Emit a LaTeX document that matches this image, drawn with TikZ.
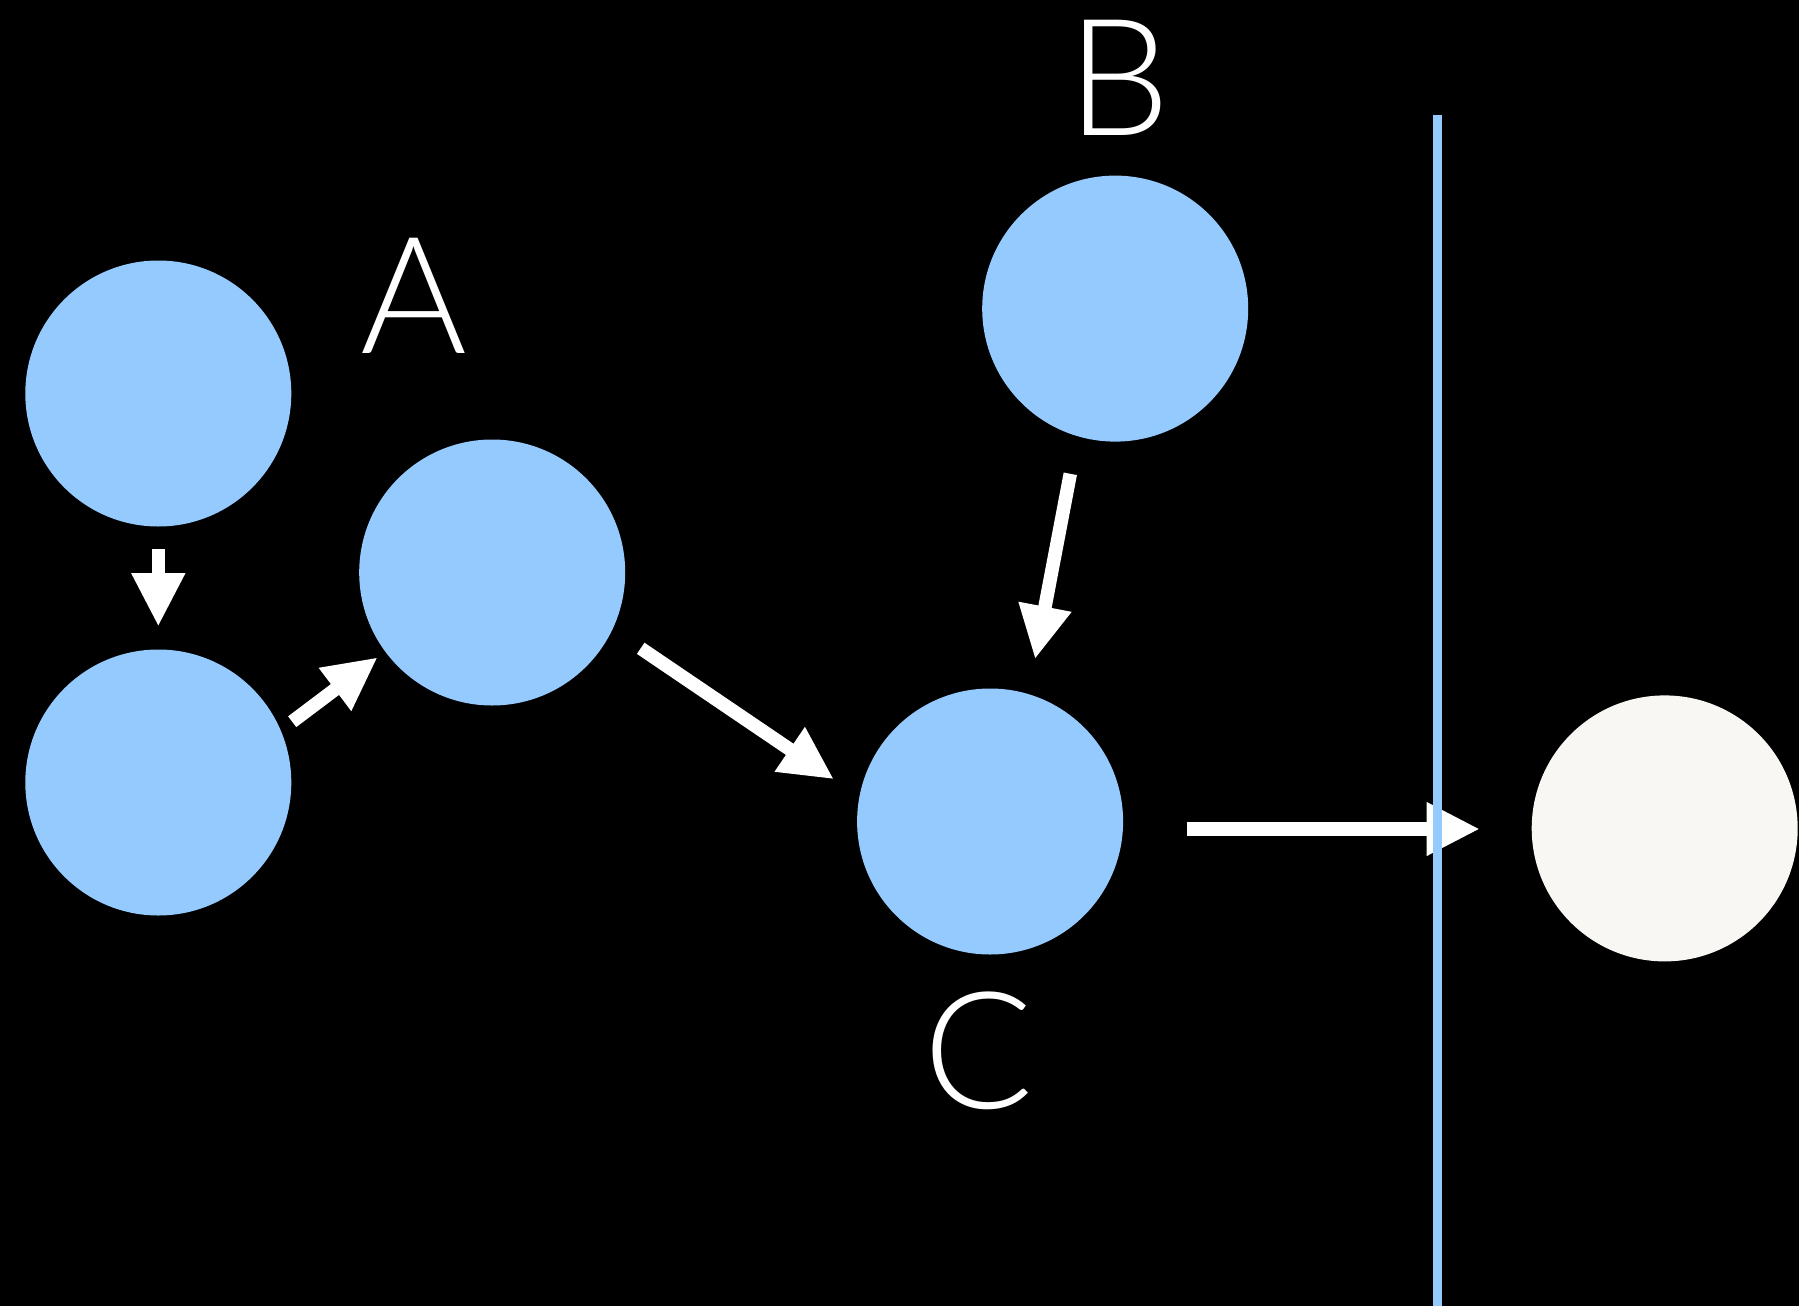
\documentclass[tikz,border=0pt]{standalone}
\usepackage{fontspec}
\setmainfont{Lato}[UprightFont=* Light]
\usetikzlibrary{arrows.meta}
\definecolor{lblue}{RGB}{148,202,254}
\definecolor{offwhite}{RGB}{248,247,243}
\begin{document}
\begin{tikzpicture}[x=1pt,y=-1pt,
  ball/.style={circle,fill=lblue,draw=none,minimum size=266pt,inner sep=0pt,outer sep=0pt},
  arr/.style={draw=white,line width=13.5pt,-{Triangle[length=53.5pt,width=50pt]}},
  lab/.style={text=white,font=\fontsize{163}{180}\selectfont,anchor=base,inner sep=0pt}]
\fill[black] (0,0) rectangle (1799,1306);
\useasboundingbox (0,0) rectangle (1799,1306);
\node[ball] (c1) at (158.3,393.5) {};
\node[ball] (c2) at (158.3,782.5) {};
\node[ball] (cA) at (492.2,572.5) {};
\node[ball] (cB) at (1115.2,308.6) {};
\node[ball] (cC) at (990.1,821.5) {};
\node[ball,fill=offwhite] (cW) at (1664.7,828.4) {};
\node[lab] (lA) at (414,353.4) {A};
\node[lab] (lB) at (1119,135) {B};
\node[lab] (lC) at (979,1108) {C};
\draw[arr] ([shift={(0,155.8)}]c1.center) -- ([shift={(0,-155.8)}]c2.center);
\draw[arr] ([shift={(133.9,-60.8)}]c2.center) -- ([shift={(-114.5,84.8)}]cA.center);
\draw[arr] ([shift={(148.5,75.8)}]cA.center) -- ([shift={(-156.1,-42.2)}]cC.center);
\draw[arr] ([shift={(-44.9,165.2)}]cB.center) -- ([shift={(44.9,-162.2)}]cC.center);
\draw[arr] ([shift={(196.6,7.5)}]cC.center) -- ([shift={(-184.7,0.6)}]cW.center);
\coordinate (vtop) at (1437.5,114.7);
\coordinate (vbot) at (1437.5,1306);
\draw[lblue,line width=8.3pt] (vtop) -- (vbot);
\end{tikzpicture}
\end{document}
